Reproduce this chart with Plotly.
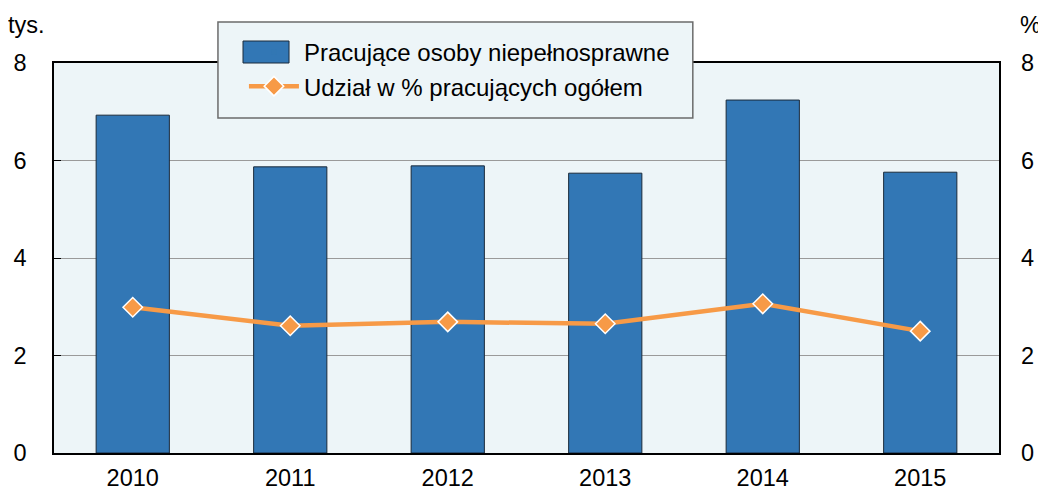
import plotly.graph_objects as go

years = ["2010", "2011", "2012", "2013", "2014", "2015"]
workers = [6.93, 5.87, 5.89, 5.74, 7.24, 5.76]
share = [2.99, 2.61, 2.69, 2.65, 3.06, 2.50]
yticks = [0, 2, 4, 6, 8]

FONT = "Liberation Sans, Arial, sans-serif"
BAR = "#3277B5"
LINE = "#F79A47"

fig = go.Figure()
fig.add_trace(go.Bar(
    x=years, y=workers, name="Pracujące osoby niepełnosprawne",
    marker=dict(color=BAR, line=dict(color="#1a2a3a", width=1)),
    width=0.465, showlegend=False,
))
# legend entry for the bars (key drawn as a wide rectangle shape below)
fig.add_trace(go.Scatter(
    x=[None], y=[None], mode="markers", name="Pracujące osoby niepełnosprawne",
    marker=dict(opacity=0, color=BAR), legendgroup="a", hoverinfo="skip",
))
fig.add_trace(go.Scatter(
    x=years, y=share, name="Udział w % pracujących ogółem", yaxis="y2",
    mode="lines+markers",
    line=dict(color=LINE, width=4.5),
    marker=dict(symbol="diamond", size=15, color=LINE, line=dict(color="white", width=1.5)),
    legendgroup="b",
))

# page body has an 8px margin; size the figure to sit in the 1046x491 window
fig.update_layout(
    width=1038, height=483,
    margin=dict(l=46, r=47, t=55, b=38, autoexpand=False),
    paper_bgcolor="white",
    plot_bgcolor="#EDF5F8",
    font=dict(family=FONT, size=23.5, color="black"),
    showlegend=True,
    legend=dict(
        x=0.201, y=1.085, xanchor="left", yanchor="top",
        bgcolor="rgba(0,0,0,0)", borderwidth=0,
        font=dict(size=24), traceorder="grouped", tracegroupgap=0,
        itemwidth=50,
    ),
    xaxis=dict(
        showline=True, linecolor="black", linewidth=1.5, mirror=True,
        ticks="", tickfont=dict(size=23.5), ticklabelstandoff=3, automargin=False,
    ),
    yaxis=dict(
        range=[0, 8], tickvals=yticks, showgrid=True, gridcolor="#9a9a9a", gridwidth=1,
        showline=True, linecolor="black", linewidth=1.5, mirror=True,
        ticks="inside", ticklen=7, tickcolor="black", ticklabelstandoff=21,
        zeroline=False, tickfont=dict(size=23.5), automargin=False,
    ),
    yaxis2=dict(
        range=[0, 8], tickvals=yticks, overlaying="y", side="right",
        showgrid=False, zeroline=False, showline=False,
        ticks="", ticklabelstandoff=21, tickfont=dict(size=23.5), automargin=False,
    ),
    bargap=0.535,
    shapes=[
        dict(type="rect", xref="paper", yref="paper",
             x0=0.1735, x1=0.676, y0=0.859, y1=1.105,
             fillcolor="#EDF5F8", line=dict(color="#6b6b6b", width=1.5), layer="above"),
        dict(type="rect", xref="paper", yref="paper",
             x0=0.200, x1=0.2487, y0=1.0, y1=1.0564,
             fillcolor=BAR, line=dict(color="#1a2a3a", width=1), layer="above"),
    ],
)

fig.add_annotation(text="tys.", xref="paper", yref="paper", x=-0.0286, y=1.097,
                   xanchor="center", yanchor="middle", showarrow=False, font=dict(size=23.5))
fig.add_annotation(text="%", xref="paper", yref="paper", x=1.033, y=1.097,
                   xanchor="center", yanchor="middle", showarrow=False, font=dict(size=23.5))

fig.write_html("out.html")
